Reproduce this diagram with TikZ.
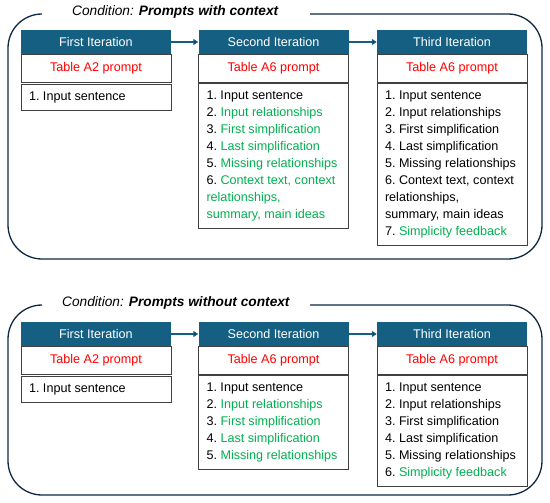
\documentclass[tikz,border=0pt]{standalone}
\usepackage{fontspec}
\setmainfont{Liberation Sans}
\usetikzlibrary{positioning}
\usetikzlibrary{arrows.meta}
\definecolor{hdblue}{HTML}{156082}
\definecolor{framenavy}{HTML}{0E2841}
\definecolor{promptred}{HTML}{FF0000}
\definecolor{itemgreen}{HTML}{00B050}
\definecolor{cellgray}{HTML}{404040}
\newcommand{\grn}[1]{\textcolor{itemgreen}{#1}}
\newcommand{\cellfont}{\fontsize{12.6}{17}\selectfont\frenchspacing}
\tikzset{
  head node/.style={fill=hdblue,text=white,minimum width=150pt,minimum height=24pt,inner sep=0pt,font=\cellfont},
  prompt node/.style={draw=cellgray,line width=1pt,fill=white,text=promptred,minimum width=150pt,minimum height=28pt,inner sep=0pt,font=\cellfont},
  list node/.style={draw=cellgray,line width=1pt,fill=white,text width=134pt,inner xsep=8pt,inner ysep=7.2pt,align=flush left,font=\cellfont},
  frame/.style={draw=framenavy,line width=1.3pt,rounded corners=34pt},
  title node/.style={font=\fontsize{13.7}{16}\selectfont\itshape,inner sep=0pt,anchor=west},
  flow/.style={draw=hdblue,line width=1.5pt,-{Triangle[length=5pt,width=6pt]}},
}

\begin{document}
\begin{tikzpicture}[x=1pt,y=-1pt,node distance=0pt]
    \useasboundingbox (0,0) rectangle (550,503);

    % with context
    \node[title node] (t1) at (72,12) {Condition: \textbf{Prompts with context}};
    \draw[frame] (310,14) -- (542,14) -- (542,259) -- (8,259) -- (8,14) -- (42,14);

    \node[head node] (a1) at (96,42) {First Iteration};
    \node[prompt node] (a1p) [below = of a1] {Table A2 prompt};
    \node[list node] (a1l) [below = 1pt of a1p] {1. Input sentence};

    \node[head node] (a2) at (273.5,42) {Second Iteration};
    \node[prompt node] (a2p) [below = of a2] {Table A6 prompt};
    \node[list node] (a2l) [below = of a2p] {1. Input sentence\\
        2. \grn{Input relationships}\\
        3. \grn{First simplification}\\
        4. \grn{Last simplification}\\
        5. \grn{Missing relationships}\\
        6. \grn{Context text, context}\\
        \grn{relationships,}\\
        \grn{summary, main ideas}};

    \node[head node] (a3) at (452,42) {Third Iteration};
    \node[prompt node] (a3p) [below = of a3] {Table A6 prompt};
    \node[list node] (a3l) [below = of a3p] {1. Input sentence\\
        2. Input relationships\\
        3. First simplification\\
        4. Last simplification\\
        5. Missing relationships\\
        6. Context text, context\\
        relationships,\\
        summary, main ideas\\
        7. \grn{Simplicity feedback}};

    \path[flow]
    (a1) edge (a2)
    (a2) edge (a3);

    % without context
    \node[title node] (t2) at (62,303) {Condition: \textbf{Prompts without context}};
    \draw[frame] (310,305) -- (542,305) -- (542,495) -- (8,495) -- (8,305) -- (42,305);

    \node[head node] (b1) at (96,334) {First Iteration};
    \node[prompt node] (b1p) [below = of b1] {Table A2 prompt};
    \node[list node] (b1l) [below = 1pt of b1p] {1. Input sentence};

    \node[head node] (b2) at (273.5,334) {Second Iteration};
    \node[prompt node] (b2p) [below = of b2] {Table A6 prompt};
    \node[list node] (b2l) [below = of b2p] {1. Input sentence\\
        2. \grn{Input relationships}\\
        3. \grn{First simplification}\\
        4. \grn{Last simplification}\\
        5. \grn{Missing relationships}};

    \node[head node] (b3) at (452,334) {Third Iteration};
    \node[prompt node] (b3p) [below = of b3] {Table A6 prompt};
    \node[list node] (b3l) [below = of b3p] {1. Input sentence\\
        2. Input relationships\\
        3. First simplification\\
        4. Last simplification\\
        5. Missing relationships\\
        6. \grn{Simplicity feedback}};

    \path[flow]
    (b1) edge (b2)
    (b2) edge (b3);
\end{tikzpicture}
\end{document}
